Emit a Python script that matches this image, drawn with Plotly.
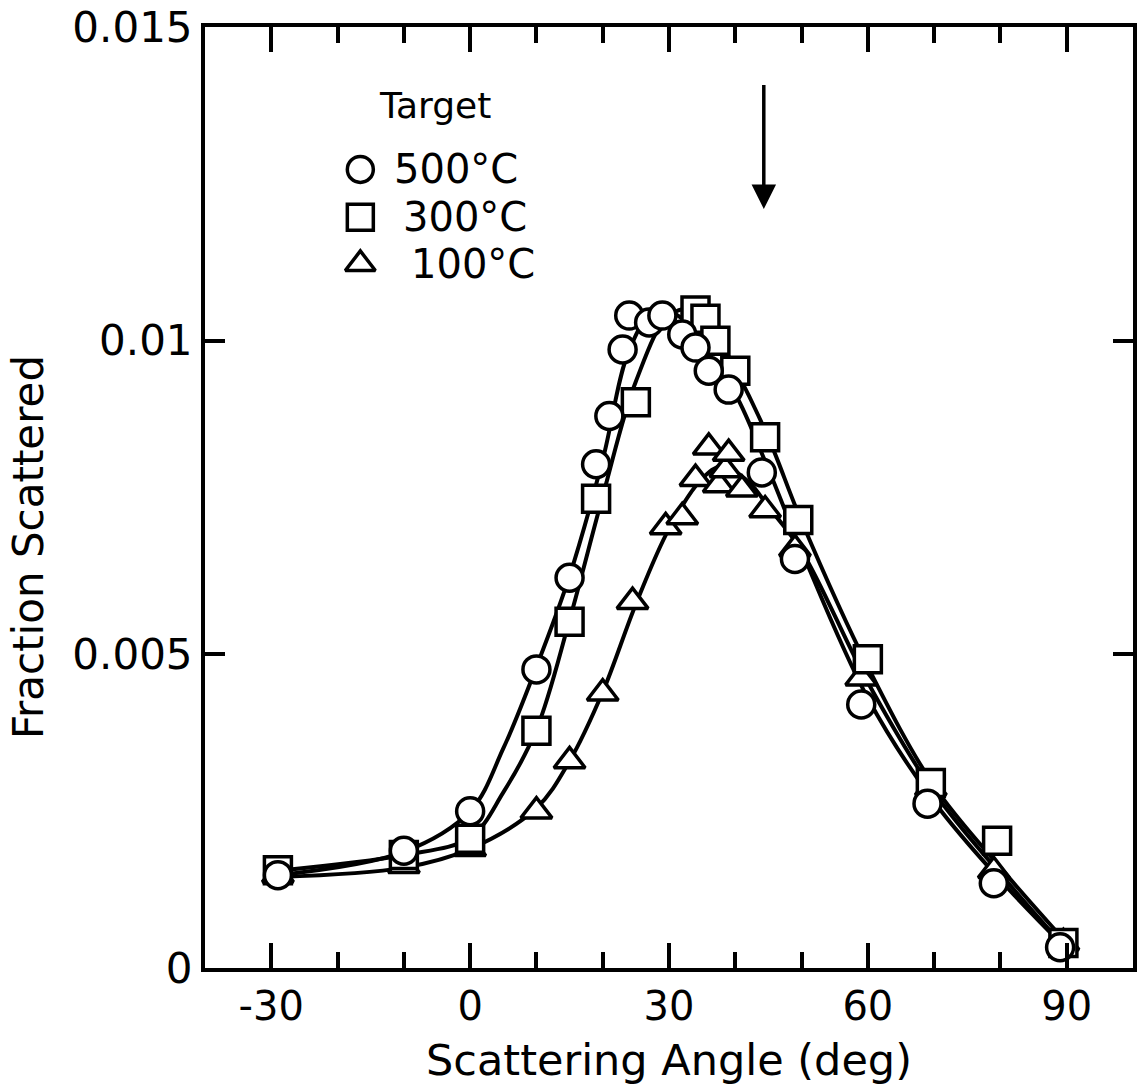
import plotly.graph_objects as go

# Measured points (scattering angle in degrees, fraction scattered)
angle_500 = [-29, -10, 0, 10, 15, 19, 21, 23, 24, 27, 29, 32, 34, 36, 39, 44, 49, 59, 69, 79, 89]
frac_500 = [0.00148, 0.00187, 0.00250, 0.00476, 0.00622, 0.00803, 0.00880, 0.00986, 0.01040,
            0.01029, 0.01040, 0.01010, 0.00989, 0.00952, 0.00922, 0.00790, 0.00652, 0.00420,
            0.00262, 0.00135, 0.00033]

angle_300 = [-29, -10, 0, 10, 15, 19, 25, 34, 35.5, 37, 40, 44.5, 49.5, 60, 69.5, 79.5, 89.5]
frac_300 = [0.00156, 0.00180, 0.00206, 0.00378, 0.00552, 0.00748, 0.00902, 0.01048, 0.01035,
            0.01000, 0.00952, 0.00846, 0.00714, 0.00492, 0.00295, 0.00203, 0.00040]

angle_100 = [-29, -10, 0, 10, 15, 20, 24.5, 29.5, 32, 34, 36, 37.5, 38.5, 39, 41, 44.5, 49,
             59, 69.5, 79, 89.5]
frac_100 = [0.00148, 0.00163, 0.00190, 0.00250, 0.00330, 0.00438, 0.00584, 0.00703, 0.00719,
            0.00780, 0.00830, 0.00770, 0.00794, 0.00820, 0.00763, 0.00730, 0.00668, 0.00462,
            0.00287, 0.00155, 0.00040]

# Smooth fitted curves drawn through each data set
curve_500_x = [-29, -10, 0, 5, 10, 15, 20, 24, 28, 32, 36, 40, 45, 50, 60, 70, 80, 90]
curve_500_y = [0.00148, 0.00185, 0.00250, 0.00350, 0.00480, 0.00625, 0.00810, 0.00985, 0.01050,
               0.01035, 0.00975, 0.00915, 0.00795, 0.00665, 0.00430, 0.00265, 0.00140, 0.00030]

curve_300_x = [-29, -10, 0, 5, 10, 15, 20, 25, 30, 34, 37, 40, 45, 50, 60, 70, 80, 90]
curve_300_y = [0.00155, 0.00180, 0.00208, 0.00280, 0.00380, 0.00555, 0.00752, 0.00935, 0.01040,
               0.01050, 0.01010, 0.00955, 0.00845, 0.00712, 0.00480, 0.00290, 0.00160, 0.00040]

curve_100_x = [-29, -10, 0, 10, 15, 20, 25, 30, 35, 38, 42, 45, 50, 60, 70, 80, 90]
curve_100_y = [0.00145, 0.00160, 0.00190, 0.00255, 0.00330, 0.00440, 0.00580, 0.00700, 0.00780,
               0.00800, 0.00775, 0.00735, 0.00665, 0.00455, 0.00280, 0.00150, 0.00030]

series_labels = ["500°C", "300°C", "100°C"]
x_tick_vals = [-30, 0, 30, 60, 90]
x_tick_text = ["-30", "0", "30", "60", "90"]
y_tick_vals = [0, 0.005, 0.01, 0.015]
y_tick_text = ["0", "0.005", "0.01", "0.015"]

# Arrow marking the specular angle
arrow_angle = 44.3
arrow_tip = 0.0121
arrow_tail = 0.0141

FONT = "DejaVu Sans"
INK = "black"

fig = go.Figure()

for cx, cy in [(curve_500_x, curve_500_y), (curve_300_x, curve_300_y), (curve_100_x, curve_100_y)]:
    fig.add_trace(go.Scatter(
        x=cx, y=cy, mode="lines", line=dict(color=INK, width=4, shape="spline", smoothing=1.0),
        showlegend=False, hoverinfo="skip"))

marker_style = dict(size=27, color="white", line=dict(color=INK, width=3.5))
for ax_, ay_, sym in [(angle_100, frac_100, "triangle-up"),
                      (angle_300, frac_300, "square"),
                      (angle_500, frac_500, "circle")]:
    fig.add_trace(go.Scatter(
        x=ax_, y=ay_, mode="markers", marker=dict(symbol=sym, **marker_style),
        showlegend=False))

# Key drawn on an overlay axis measured in page pixels
key_x = 361
key_rows = [166, 214, 261]
key_text_x = [393, 402, 410]
for sym, row in zip(["circle", "square", "triangle-up"], key_rows):
    fig.add_trace(go.Scatter(
        x=[key_x], y=[row], xaxis="x2", yaxis="y2", mode="markers",
        marker=dict(symbol=sym, size=26, color="white", line=dict(color=INK, width=3.5)),
        showlegend=False, hoverinfo="skip"))

annotations = [
    dict(x=378, y=102, xref="x2", yref="y2", text="Target", showarrow=False,
         xanchor="left", yanchor="middle", font=dict(family=FONT, size=36, color=INK)),
]
for lbl, tx, row in zip(series_labels, key_text_x, key_rows):
    annotations.append(dict(x=tx, y=row, xref="x2", yref="y2", text=lbl, showarrow=False,
                            xanchor="left", yanchor="middle",
                            font=dict(family=FONT, size=40, color=INK)))

annotations.append(dict(
    x=arrow_angle, y=arrow_tip, ax=arrow_angle, ay=arrow_tail, xref="x", yref="y",
    axref="x", ayref="y", showarrow=True, arrowhead=2, arrowsize=1.4, arrowwidth=3.5,
    arrowcolor=INK, text=""))

# Axis titles placed in paper space
annotations.append(dict(
    x=0.5, y=-0.0975, xref="paper", yref="paper", text="Scattering Angle (deg)",
    showarrow=False, xanchor="center", yanchor="middle",
    font=dict(family=FONT, size=43, color=INK)))
annotations.append(dict(
    x=-0.19, y=0.447, xref="paper", yref="paper", text="Fraction Scattered", textangle=-90,
    showarrow=False, xanchor="center", yanchor="middle",
    font=dict(family=FONT, size=42, color=INK)))

fig.update_layout(
    width=1140, height=1087,
    margin=dict(l=205, r=3, t=23, b=119),
    paper_bgcolor="white", plot_bgcolor="white",
    annotations=annotations,
    font=dict(family=FONT, color=INK),
    xaxis=dict(
        range=[-40, 100], tickvals=x_tick_vals, ticktext=x_tick_text, ticks="inside",
        ticklen=25, tickwidth=3.5, tickcolor=INK, showline=True, linewidth=4, linecolor=INK,
        mirror="ticks", showgrid=False, zeroline=False,
        tickfont=dict(family=FONT, size=40, color=INK),
        minor=dict(dtick=10, tick0=0, ticks="inside", ticklen=16, tickwidth=3.5, tickcolor=INK,
                   showgrid=False),
    ),
    yaxis=dict(
        range=[0, 0.015], tickvals=y_tick_vals, ticktext=y_tick_text, ticks="inside",
        ticklen=20, tickwidth=3.5, tickcolor=INK, showline=True, linewidth=4, linecolor=INK,
        mirror="ticks", showgrid=False, zeroline=False, ticklabeloverflow="allow",
        tickfont=dict(family=FONT, size=42, color=INK),
    ),
    xaxis2=dict(overlaying="x", range=[205, 1137], visible=False, fixedrange=True),
    yaxis2=dict(overlaying="y", range=[968, 23], visible=False, fixedrange=True),
)

fig.write_html("out.html")
